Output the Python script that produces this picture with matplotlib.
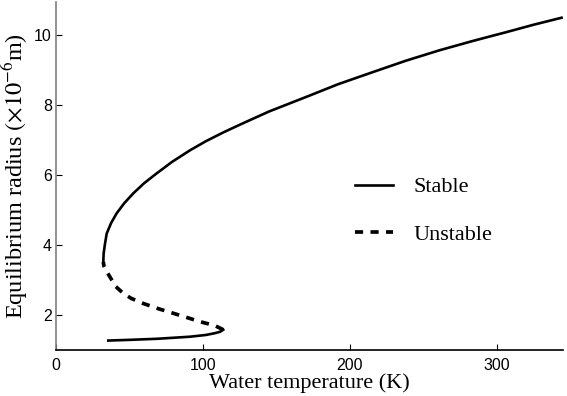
import matplotlib
matplotlib.use("Agg")
import matplotlib.pyplot as plt

# lower stable branch (K, 1e-6 m)
lower_temp = [35.6, 50.0, 68.5, 80.0, 91.2, 102.0, 108.0, 111.6, 113.8]
lower_radius = [1.27, 1.29, 1.32, 1.35, 1.38, 1.43, 1.48, 1.52, 1.58]

# unstable branch
mid_temp = [113.8, 108.0, 98.0, 89.0, 79.8, 69.0, 59.4, 51.0, 45.8, 40.5, 36.7, 34.0, 32.6, 32.2]
mid_radius = [1.58, 1.70, 1.81, 1.93, 2.05, 2.19, 2.33, 2.48, 2.62, 2.82, 3.09, 3.28, 3.40, 3.52]

# upper stable branch
upper_temp = [32.2, 32.4, 33.2, 34.5, 37.5, 41.3, 46.5, 52.6, 60.0, 68.5, 79.0, 91.2, 102.0,
              113.8, 125.0, 145.0, 170.5, 192.0, 215.9, 238.0, 261.0, 284.0, 306.6, 325.0, 344.0]
upper_radius = [3.52, 3.75, 4.00, 4.33, 4.63, 4.91, 5.20, 5.48, 5.77, 6.05, 6.38, 6.71, 6.97,
                7.22, 7.44, 7.82, 8.24, 8.60, 8.95, 9.27, 9.57, 9.84, 10.09, 10.30, 10.50]

plt.rcParams['mathtext.fontset'] = 'stix'

fig = plt.figure(figsize=(5.67, 3.96), dpi=100)
ax = fig.add_axes([56 / 567, 1 - 350 / 396, 507 / 567, 348 / 396])

lw = 1.9
ax.plot(upper_temp, upper_radius, color='black', lw=lw, label='Stable')
ax.plot(mid_temp, mid_radius, color='black', lw=lw * 1.4, linestyle=(0, (2.2, 2.0)), label='Unstable')
ax.plot(lower_temp, lower_radius, color='black', lw=lw)

ax.set_xlim(0, 345)
ax.set_ylim(1.0, 10.95)
ax.set_xticks([0, 100, 200, 300])
ax.set_yticks([2, 4, 6, 8, 10])

for side in ['top', 'right']:
    ax.spines[side].set_visible(False)
ax.spines['left'].set_color('#7f7f7f')
ax.spines['left'].set_linewidth(1.2)
ax.spines['bottom'].set_linewidth(1.2)

ax.tick_params(direction='in', length=4, width=0.8, labelsize=11.5)
ax.tick_params(axis='x', pad=6)
ax.tick_params(axis='y', pad=3)
for lab in ax.get_xticklabels() + ax.get_yticklabels():
    lab.set_family('Liberation Sans')

ax.set_xlabel('Water temperature (K)', family='Liberation Serif', fontsize=16, labelpad=0)
ax.set_ylabel(r'Equilibrium radius $(\times 10^{-6}$m)', family='Liberation Serif', fontsize=17.5, labelpad=3)

leg = ax.legend(loc='upper left', bbox_to_anchor=(0.55, 0.555), frameon=False,
                prop={'family': 'Liberation Serif', 'size': 16},
                handlelength=1.7, handletextpad=0.95, labelspacing=1.2)

fig.savefig('out.png', dpi=100)
